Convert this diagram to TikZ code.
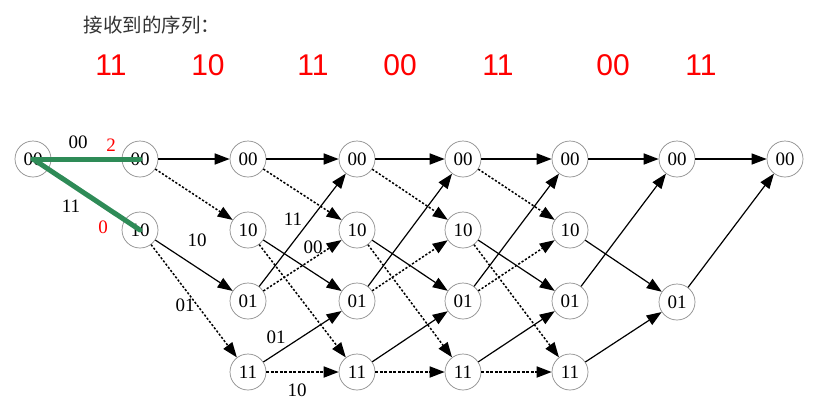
\documentclass[tikz,border=0pt]{standalone}
\usepackage{fontspec}
\setmainfont{Liberation Serif}
\newfontfamily\cjk{Noto Sans CJK SC}
\newfontfamily\arialf{Liberation Sans}
\usetikzlibrary{arrows.meta}
\definecolor{seag}{RGB}{46,139,87}
\begin{document}
\begin{tikzpicture}[x=1pt,y=-1pt,
 st/.style={circle,draw=black!45,line width=0.7pt,minimum size=36pt,inner sep=0pt,font=\fontsize{19}{19}\selectfont},
 tip/.style={-{Triangle[length=15pt,width=11pt]}},
 sol/.style={tip,line width=1.2pt},
 sol0/.style={tip,line width=1.7pt},
 dot/.style={tip,line width=1.5pt,dash pattern=on 2.2pt off 1.8pt},
 dot1/.style={tip,line width=1.8pt,dash pattern=on 3pt off 1.5pt},
 lab/.style={font=\fontsize{19}{19}\selectfont},
 rlab/.style={lab,text=red},
 toplab/.style={font=\arialf\fontsize{30}{30}\selectfont,text=red},
 green/.style={draw=seag,line width=5pt,line cap=round}]
\useasboundingbox (0,0) rectangle (834,408);
% title
\node[anchor=west,font=\cjk\fontsize{19.5}{19.5}\selectfont,text=black!80] (title) at (80,25) {接收到的序列：};
\foreach \x/\t [count=\i] in {111/11,208/10,313/11,400/00,498/11,613/00,701/11}
  \node[toplab] (r\i) at (\x,65) {\t};
% nodes
\node[st] (n0-a) at (33,159) {00};
\node[st] (n1-a) at (140,159) {00};
\node[st] (n1-b) at (140,230) {10};
\foreach \c/\x in {2/248,3/357,4/463,5/570}{
  \node[st] (n\c-a) at (\x,159) {00};
  \node[st] (n\c-b) at (\x,230) {10};
  \node[st] (n\c-c) at (\x,301) {01};
  \node[st] (n\c-d) at (\x,372) {11};
}
\node[st] (n6-a) at (677,159) {00};
\node[st] (n6-c) at (677,302) {01};
\node[st] (n7-a) at (785,159) {00};
% edges column 1 -> 2
\draw[sol0] (n1-a) -- (n2-a);
\draw[dot] (n1-a) -- (n2-b);
\draw[sol] (n1-b) -- (n2-c);
\draw[dot] (n1-b) -- (n2-d);
% full trellis
\foreach \c/\d in {2/3,3/4,4/5}{
  \draw[sol0] (n\c-a) -- (n\d-a);
  \draw[dot] (n\c-a) -- (n\d-b);
  \draw[sol] (n\c-b) -- (n\d-c);
  \draw[dot] (n\c-b) -- (n\d-d);
  \draw[sol] (n\c-c) -- (n\d-a);
  \draw[dot] (n\c-c) -- (n\d-b);
  \draw[sol] (n\c-d) -- (n\d-c);
  \draw[dot1] (n\c-d) -- (n\d-d);
}
% column 5 -> 6
\draw[sol0] (n5-a) -- (n6-a);
\draw[sol] (n5-b) -- (n6-c);
\draw[sol] (n5-c) -- (n6-a);
\draw[sol] (n5-d) -- (n6-c);
% column 6 -> 7
\draw[sol] (n6-a) -- (n7-a);
\draw[sol] (n6-c) -- (n7-a);
% green path
\draw[green] (n0-a.center) -- (n1-a.center);
\draw[green] (n0-a.center) -- (n1-b.center);
% labels
\node[lab] (l1) at (78,142) {00};
\node[rlab] (l2) at (111,145) {2};
\node[lab] (l3) at (71,206) {11};
\node[rlab] (l4) at (103,227) {0};
\node[lab] (l5) at (197,240) {10};
\node[lab] (l6) at (185,305) {01};
\node[lab] (l7) at (293,219) {11};
\node[lab] (l8) at (313,247) {00};
\node[lab] (l9) at (276,337) {01};
\node[lab] (l10) at (297,390) {10};
\end{tikzpicture}
\end{document}
